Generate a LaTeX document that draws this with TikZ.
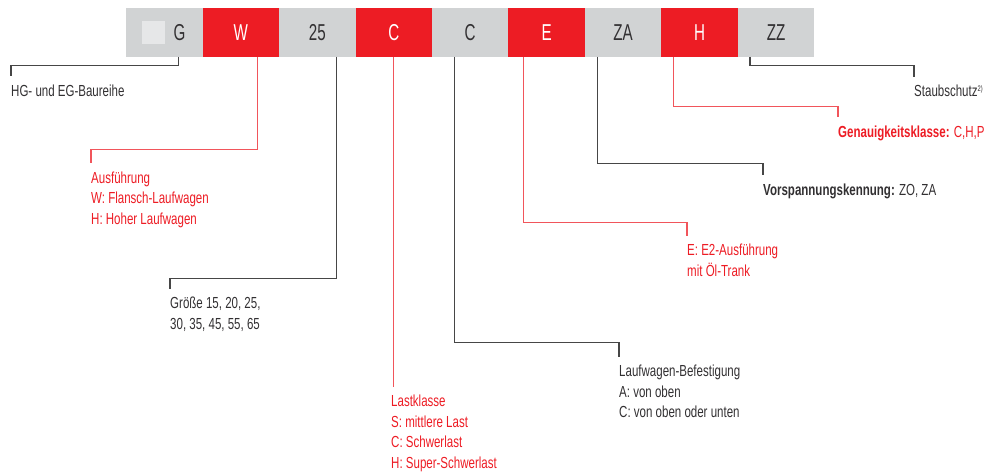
\documentclass[tikz,border=0pt]{standalone}
\usepackage{fontspec}
\setmainfont[FakeStretch=0.72]{Liberation Sans}
\newfontfamily\codefont[FakeStretch=0.66]{Liberation Sans}
\usepackage{tikz}
\definecolor{HiwinRed}{RGB}{237,28,36}
\definecolor{BoxGray}{RGB}{209,211,212}
\definecolor{SquareGray}{RGB}{230,231,232}
\definecolor{TextDark}{RGB}{50,48,50}
\definecolor{LineDark}{RGB}{70,70,70}

\begin{document}
\begin{tikzpicture}[x=1pt, y=-1pt,
	codebox/.style={minimum width=76.45pt, minimum height=48.5pt, inner sep=0pt,
		anchor=north west, font=\codefont\fontsize{23}{23}\selectfont},
	lbl/.style={anchor=north west, inner sep=0pt, align=left,
		font=\fontsize{16}{20.6}\selectfont},
	greyline/.style={LineDark, line width=1.1pt, shorten >=8pt},
	redline/.style={HiwinRed!75, line width=1.1pt, shorten >=8pt}]
	\useasboundingbox (0,0) rectangle (988,473);
	% casillas del código de pedido
	\foreach \nm/\txt/\col/\tcol [count=\i from 0] in {bG//BoxGray/TextDark,
		bW/W/HiwinRed/white, b25/25/BoxGray/TextDark, bCa/C/HiwinRed/white,
		bCb/C/BoxGray/TextDark, bE/E/HiwinRed/white, bZA/ZA/BoxGray/TextDark,
		bH/H/HiwinRed/white, bZZ/ZZ/BoxGray/TextDark}{
		\node[codebox, fill=\col, text=\tcol] (\nm) at ({126+\i*76.45}, 8) {\txt};
	}
	\node[fill=SquareGray, minimum size=23pt, inner sep=0pt] (sq) at ([xshift=-10.7pt]bG.center) {};
	\node[font=\codefont\fontsize{23}{23}\selectfont, text=TextDark, inner sep=0pt] (gG) at ([xshift=15pt]bG.center) {G};
	% textos explicativos
	\node[lbl, text=TextDark] (lG) at (11,84.5) {HG- und EG-Baureihe};
	\node[lbl, text=HiwinRed] (lW) at (91,171.5) {Ausführung\\W: Flansch-Laufwagen\\H: Hoher Laufwagen};
	\node[lbl, text=TextDark] (l25) at (170,297) {Größe 15, 20, 25,\\30, 35, 45, 55, 65};
	\node[lbl, text=HiwinRed] (lCa) at (391,395) {Lastklasse\\S: mittlere Last\\C: Schwerlast\\H: Super-Schwerlast};
	\node[lbl, text=TextDark] (lCb) at (619,365) {Laufwagen-Befestigung\\A: von oben\\C: von oben oder unten};
	\node[lbl, text=HiwinRed] (lE) at (687,244) {E: E2-Ausführung\\mit Öl-Trank};
	\node[lbl, text=TextDark] (lZA) at (763,183.5) {\textbf{Vorspannungskennung:} ZO, ZA};
	\node[lbl, text=HiwinRed] (lH) at (838,125.5) {\textbf{Genauigkeitsklasse:} C,H,P};
	\node[lbl, text=TextDark] (lZZ) at (914,85) {Staubschutz\raisebox{5.5pt}{\fontsize{8}{8}\selectfont 2)}};
	% líneas de referencia
	\draw[greyline] ([xshift=14pt]bG.south) -- ++(0,8.5) -| (lG.north west);
	\draw[redline] ([xshift=17pt]bW.south) -- ++(0,93) -| (lW.north west);
	\draw[greyline] ([xshift=19pt]b25.south) -- ++(0,222) -| (l25.north west);
	\draw[redline] (bCa.south) -- (bCa.south |- lCa.north west);
	\draw[greyline] ([xshift=-15.5pt]bCb.south) -- ++(0,285.5) -| (lCb.north west);
	\draw[redline] ([xshift=-23pt]bE.south) -- ++(0,165.5) -| (lE.north west);
	\draw[greyline] ([xshift=-25.5pt]bZA.south) -- ++(0,106.5) -| (lZA.north west);
	\draw[redline] ([xshift=-26pt]bH.south) -- ++(0,49.5) -| (lH.north west);
	\draw[greyline] ([xshift=-26pt]bZZ.south) -- ++(0,8.5) -| (lZZ.north west);
\end{tikzpicture}
\end{document}
